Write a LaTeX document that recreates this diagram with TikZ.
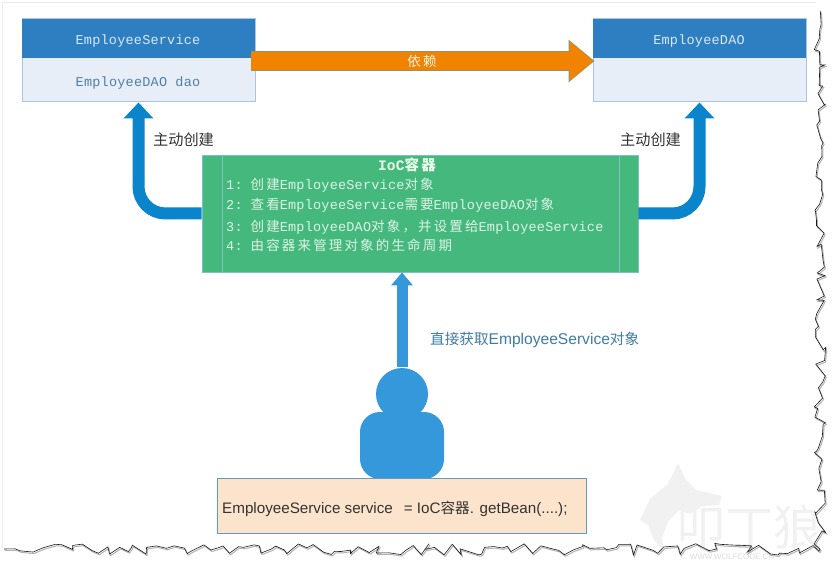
\documentclass[tikz,border=0pt]{standalone}
\usepackage{fontspec}
\setmainfont{Liberation Sans}
\newfontfamily\cn{Noto Sans CJK SC}
\newfontfamily\cns[LetterSpace=16]{Noto Sans CJK SC}
\newfontfamily\mono[LetterSpace=1.7]{Liberation Mono}
\usetikzlibrary{arrows.meta,decorations.pathmorphing,calc}
\definecolor{hdr}{HTML}{2E7FC1}
\definecolor{bodyc}{HTML}{E8EEF8}
\definecolor{edgec}{HTML}{A9C5E3}
\definecolor{arrowb}{HTML}{0A85CB}
\definecolor{arrowc}{HTML}{3498DB}
\definecolor{orangec}{HTML}{F08300}
\definecolor{orangeb}{HTML}{8C9470}
\definecolor{greenc}{HTML}{45B87D}
\definecolor{greenl}{HTML}{7CC0C8}
\definecolor{greent}{HTML}{DDF3E6}
\definecolor{peach}{HTML}{FCE4CC}
\definecolor{peachb}{HTML}{5B9BC5}
\definecolor{hdrt}{HTML}{D8E8F5}
\definecolor{bodyt}{HTML}{4F7FA8}
\definecolor{lblb}{HTML}{3E7CA8}
\definecolor{wm}{HTML}{F1F1F1}
\tikzset{
  classbody/.style={draw=edgec,fill=bodyc,line width=1pt,minimum height=83pt,inner sep=0pt,anchor=center},
  classhead/.style={fill=hdr,minimum height=39pt,inner sep=0pt},
  headtext/.style={inner sep=0pt,text=hdrt,font=\fontsize{13.5}{14}\mono},
  bluearrow/.style={draw=arrowb,line width=12pt,rounded corners=27pt,-{Triangle[width=29pt,length=16pt]}},
  linetext/.style={anchor=base west,inner sep=0pt,text=greent,font=\fontsize{13.5}{14}\mono},
  sidelabel/.style={inner sep=0pt,text=black!80,font=\fontsize{15.2}{16}\cn},
  torn/.style={decorate,decoration={random steps,segment length=7pt,amplitude=6pt}},
}
\newcommand{\zh}[1]{{\fontsize{13.5}{14}\cns #1}}
\begin{document}
\begin{tikzpicture}[x=1pt,y=-1pt]
\useasboundingbox (0,0) rectangle (835,564);
\fill[white] (0,0) rectangle (835,564);
% page edges
\draw[black!8,line width=0.8pt] (2.5,548) -- (2.5,2.5) -- (816,2.5);
% watermark
\fill[wm] (640,520) -- (650,499) -- (668,484) -- (678,463) -- (686,480) -- (696,490) -- (722,496) -- (719,505) -- (702,506) -- (690,514) -- (679,510) -- (668,522) -- (662,538) -- (664,552) -- (654,540) -- (648,525) -- cycle;
\node[inner sep=0pt,text=wm,font=\fontsize{48}{50}\cn] (wmtext) at (749,527) {叩丁狼};
\node[inner sep=0pt,text=black!14,font=\fontsize{8}{9}\selectfont] (wmurl) at (732,557) {WWW.WOLFCODE.CN};
% torn edge
\pgfmathsetseed{11}
\draw[black!30,line width=1pt,torn] (5,550.5) -- (821,550.5) -- (821,12);
\pgfmathsetseed{11}
\draw[black!90,line width=0.6pt,torn] (4,549) -- (820,549) -- (820,11);
% class boxes
\node[classbody,minimum width=233pt] (svc) at (138.5,60.5) {};
\node[classhead,minimum width=233pt] (svchead) at (138.5,38.5) {};
\node[headtext] (svct) at (138,41) {EmployeeService};
\node[inner sep=0pt,text=bodyt,font=\fontsize{13.5}{14}\mono] (svcfield) at (138,83.5) {EmployeeDAO dao};
\node[classbody,minimum width=213pt] (dao) at (699.5,60.5) {};
\node[classhead,minimum width=213pt] (daohead) at (699.5,38.5) {};
\node[headtext] (daot) at (699,41) {EmployeeDAO};
% IoC container
\node[draw=greenl,fill=greenc,line width=0.8pt,minimum width=436pt,minimum height=117pt,inner sep=0pt] (ioc) at (420,213.5) {};
\draw[greenl,line width=0.7pt] (222,155) -- (222,272) (619,155) -- (619,272);
\node[inner sep=0pt,text=white!92!green] (ioct) at (407,165) {\fontsize{14.5}{15}\mono\bfseries IoC{\cns\bfseries 容器}};
\node[linetext] (l1) at (226,190) {1:\hspace{8pt}\zh{创建}EmployeeService\zh{对象}};
\node[linetext] (l2) at (226,210) {2:\hspace{8pt}\zh{查看}EmployeeService\zh{需要}EmployeeDAO\zh{对象}};
\node[linetext] (l3) at (226,231) {3:\hspace{8pt}\zh{创建}EmployeeDAO\zh{对象，并设置给}EmployeeService};
\node[linetext] (l4) at (226,251) {4:\hspace{8pt}\zh{由容器来管理对象的生命周期}};
% creation arrows
\draw[bluearrow] (ioc.west) -| (svc.south);
\draw[bluearrow] (ioc.east) -| (dao.south);
\node[sidelabel] (lc1) at (183.5,140) {主动创建};
\node[sidelabel] (lc2) at (650.5,140) {主动创建};
% dependency arrow
\coordinate (dstart) at ($(svc.east)+(-5,0.5)$);
\coordinate (dend) at ($(dao.west)+(2,0.5)$);
\draw[orangeb,line width=20pt,-{Triangle[width=41pt,length=26pt]}] (dstart) -- (dend);
\draw[orangec,line width=18.4pt,-{Triangle[width=38pt,length=24pt]}] ($(dstart)+(0.7,0)$) -- ($(dend)+(-1,0)$);
\node[inner sep=0pt,text=white!90!orange,font=\fontsize{13.5}{14}\cns] (dep) at (422,61) {依赖};
% person
\node[circle,fill=arrowc,minimum size=52pt,inner sep=0pt] (head) at (402,394) {};
\node[rectangle,rounded corners=20pt,fill=arrowc,minimum width=84pt,minimum height=67pt,inner sep=0pt] (bodyp) at (402,445.5) {};
\draw[arrowc,line width=11pt,-{Triangle[width=21pt,length=13pt]}] ($(head.north)+(0,-1)$) -- (head.north |- ioc.south);
\node[anchor=west,inner sep=0pt,text=lblb,font=\fontsize{15.6}{16}\selectfont] (getl) at (430,340) {{\fontsize{14.6}{16}\cn 直接获取}EmployeeService{\fontsize{14.6}{16}\cn 对象}};
% code box
\node[draw=peachb,fill=peach,line width=0.8pt,minimum width=369pt,minimum height=55pt,inner sep=0pt] (code) at (401.5,505.5) {};
\node[anchor=west,inner sep=0pt,text=black!80,font=\fontsize{15.2}{16}\selectfont] (codet) at (222,509) {EmployeeService service\hspace{11pt}= IoC{\fontsize{14.6}{16}\cn 容器}. getBean(....);};
\end{tikzpicture}
\end{document}
